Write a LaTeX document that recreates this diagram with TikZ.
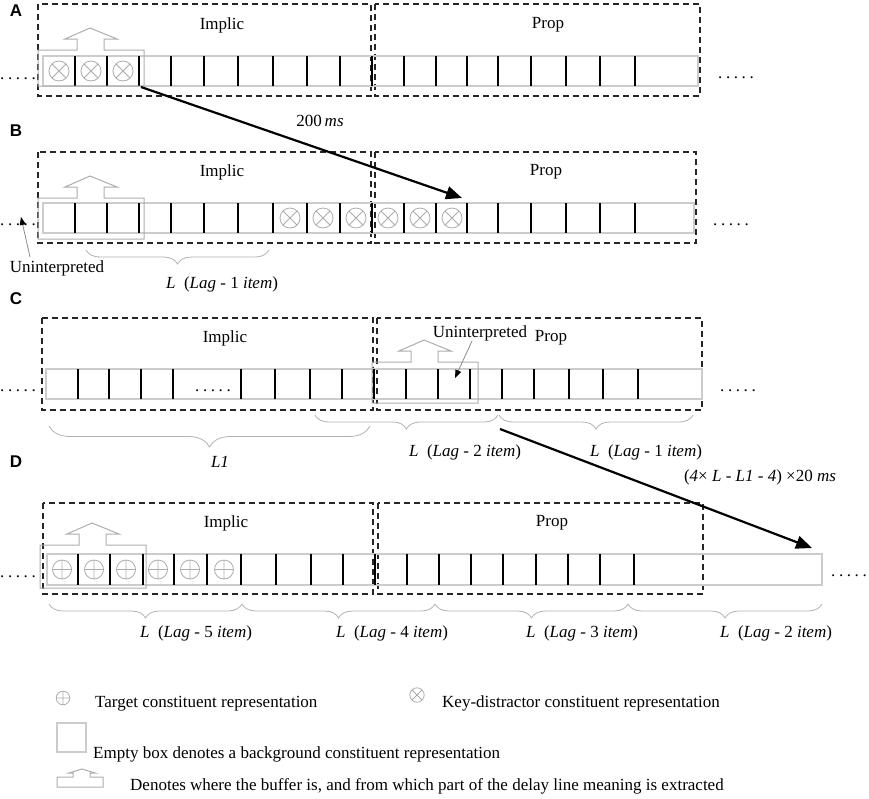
\documentclass[tikz,border=0pt]{standalone}
\usepackage{fontspec}
\setmainfont{Liberation Serif}
\newfontfamily\letterfont{Liberation Sans}
\usepackage{tikz}
\usetikzlibrary{arrows.meta, positioning, decorations.pathreplacing}
\newcommand{\fivedots}{.\kern3.6pt.\kern3.6pt.\kern3.6pt.\kern3.6pt.}
\newcommand{\lagtext}[1]{\textit{L}~~(\textit{Lag} - #1 \textit{item})}

\begin{document}
\begin{tikzpicture}[x=1pt, y=-1pt, every node/.style={font=\fontsize{17}{20}\selectfont, inner sep=0pt},
    region/.style={draw=black!85, line width=1.8pt, dash pattern=on 6pt off 4pt},
    strip/.style={draw=black!20, line width=1.3pt},
    divider/.style={draw=black, line width=1.7pt},
    symbol/.style={draw=black!32, line width=0.8pt},
    bufline/.style={draw=black!32, line width=1pt},
    curly/.style={draw=black!30, line width=0.8pt, decorate, decoration={brace, mirror, amplitude=#1}},
    curly/.default=14pt,
    delay/.style={line width=2.2pt, -{Triangle[length=16pt, width=13pt]}},
    pointer/.style={draw=black!45, line width=0.8pt, -{Triangle[length=8pt, width=6pt, color=black]}},
    letter/.style={font=\letterfont\bfseries\fontsize{17}{20}\selectfont},
    distractor/.pic={\draw[symbol] (0,0) circle[radius=10pt] (-7,-7) -- (7,7) (-7,7) -- (7,-7);},
    target/.pic={\draw[symbol] (0,0) circle[radius=9.5pt] (-9.5,0) -- (9.5,0) (0,-9.5) -- (0,9.5);},
    buffer/.pic={\draw[bufline] (0,0) -- (39,0) -- (39,-11) -- (27,-11) -- (52,-22) -- (79,-11) -- (66,-11) -- (66,0) -- (106,0) -- (106,#1) -- (0,#1) -- cycle;}]
    \useasboundingbox (0,0) rectangle (869,798);

    % A
    \node (la) [letter] at (16,11) {A};
    \draw[region] (38,4) rectangle (371,96);
    \draw[region] (375,4) rectangle (700,96);
    \node (implica) at (222,25) {Implic};
    \node (propa) at (548,25) {Prop};
    \draw[strip] (43,56) rectangle (698,86);
    \foreach \x in {75,107,139,171,204,238,273,307,340,372,404,436,467,498,531,566,600,635} \draw[divider] (\x,56) -- (\x,86);
    \foreach \x in {59,91,123} \pic at (\x,71) {distractor};
    \pic at (38,50) {buffer=36};
    \node (dotsal) at (18,79) {\fivedots};
    \node (dotsar) at (736,78) {\fivedots};
    \coordinate (starta) at (141,87);

    % B
    \node (lb) [letter] at (16,131) {B};
    \draw[region] (38,152) rectangle (371,243);
    \draw[region] (375,152) rectangle (696,243);
    \node (implicb) at (222,172) {Implic};
    \node (propb) at (546,172) {Prop};
    \draw[strip] (43,203) rectangle (694,233);
    \foreach \x in {75,107,139,171,204,238,273,307,340,372,404,436,467,498,531,566,600,635} \draw[divider] (\x,203) -- (\x,233);
    \foreach \x in {290,323,356,388,420,452} \pic at (\x,218) {distractor};
    \pic at (38,198) {buffer=41};
    \node (dotsbl) at (18,225) {\fivedots};
    \node (dotsbr) at (731,225) {\fivedots};
    \coordinate (endb) at (462,198);
    \draw[delay] (starta) -- (endb);
    \node (delayab) at (320,121) {200\,\textit{ms}};
    \node (uninterpb) at (57,268) {Uninterpreted};
    \coordinate (gapb) at (21,217);
    \draw[pointer] ([xshift=-27pt, yshift=3pt]uninterpb.north) -- (gapb);
    \draw[curly] (86,250) -- (269,250);
    \node (lagb) at (222,284) {\lagtext{1}};

    % C
    \node (lc) [letter] at (16,299) {C};
    \draw[region] (42,318) rectangle (373,410);
    \draw[region] (377,318) rectangle (702,410);
    \node (implicc) at (225,338) {Implic};
    \node (propc) at (551,338) {Prop};
    \draw[strip] (46,369) rectangle (702,399);
    \foreach \x in {78,109,141,173,241,275,310,342,374,406,438,470,502,534,569,603,638} \draw[divider] (\x,369) -- (\x,399);
    \node (dotsci) at (213,391) {\fivedots};
    \pic at (372,362) {buffer=41};
    \node (dotscl) at (18,391) {\fivedots};
    \node (dotscr) at (738,391) {\fivedots};
    \node (uninterpc) at (480,333) {Uninterpreted};
    \coordinate (gapc) at (455,378);
    \draw[pointer] ([xshift=-8pt]uninterpc.south) -- (gapc);
    \draw[curly=21pt] (49,426) -- (370,426);
    \draw[curly] (315,415) -- (498,415);
    \draw[curly] (499,415) -- (693,415);
    \node (lone) at (220,462) {\textit{L1}};
    \node (lagc) at (465,452) {\lagtext{2}};
    \node (lagcc) at (646,452) {\lagtext{1}};
    \coordinate (startc) at (500,429);

    % D
    \node (ld) [letter] at (16,462) {D};
    \draw[region] (43,503) rectangle (373,594);
    \draw[region] (378,503) rectangle (703,594);
    \node (implicd) at (226,523) {Implic};
    \node (propd) at (552,523) {Prop};
    \draw[strip] (47,554) rectangle (822,585);
    \foreach \x in {78,110,143,174,207,241,276,311,343,375,407,439,471,503,536,568,600,634} \draw[divider] (\x,554) -- (\x,585);
    \foreach \x in {62,94,126,158,190,224} \pic at (\x,569.5) {target};
    \pic at (40,545) {buffer=43};
    \node (dotsdl) at (18,577) {\fivedots};
    \node (dotsdr) at (849,576) {\fivedots};
    \coordinate (endd) at (812,548);
    \draw[delay] (startc) -- (endd);
    \node (delaycd) at (760,477) {(\textit{4}\texttimes\ \textit{L} -\ \textit{L1} - \textit{4}) \texttimes20 \textit{ms}};
    \draw[curly] (49,604) -- (242,604);
    \draw[curly] (242,604) -- (435,604);
    \draw[curly] (435,604) -- (628,604);
    \draw[curly] (628,604) -- (822,604);
    \node (lagd) at (196,633) {\lagtext{5}};
    \node (lagdd) at (392,633) {\lagtext{4}};
    \node (lagddd) at (582,633) {\lagtext{3}};
    \node (lagdddd) at (776,633) {\lagtext{2}};

    % legend
    \pic[scale=0.72] at (63,698) {target};
    \node (targettext) [anchor=west] at (95,704) {Target constituent representation};
    \pic[scale=0.72] at (417,695) {distractor};
    \node (keytext) [anchor=west] at (442,703) {Key-distractor constituent representation};
    \draw[strip] (57,723) rectangle (86,752);
    \node (emptytext) [anchor=west] at (93,754) {Empty box denotes a background constituent representation};
    \draw[bufline] (57,777) -- (73,777) -- (73,773) -- (69,773) -- (82,769) -- (95,773) -- (90,773) -- (90,777) -- (103,777) -- (103,787) -- (57,787) -- cycle;
    \node (buffertext) [anchor=west] at (130,786) {Denotes where the buffer is, and from which part of the delay line meaning is extracted};
\end{tikzpicture}
\end{document}
